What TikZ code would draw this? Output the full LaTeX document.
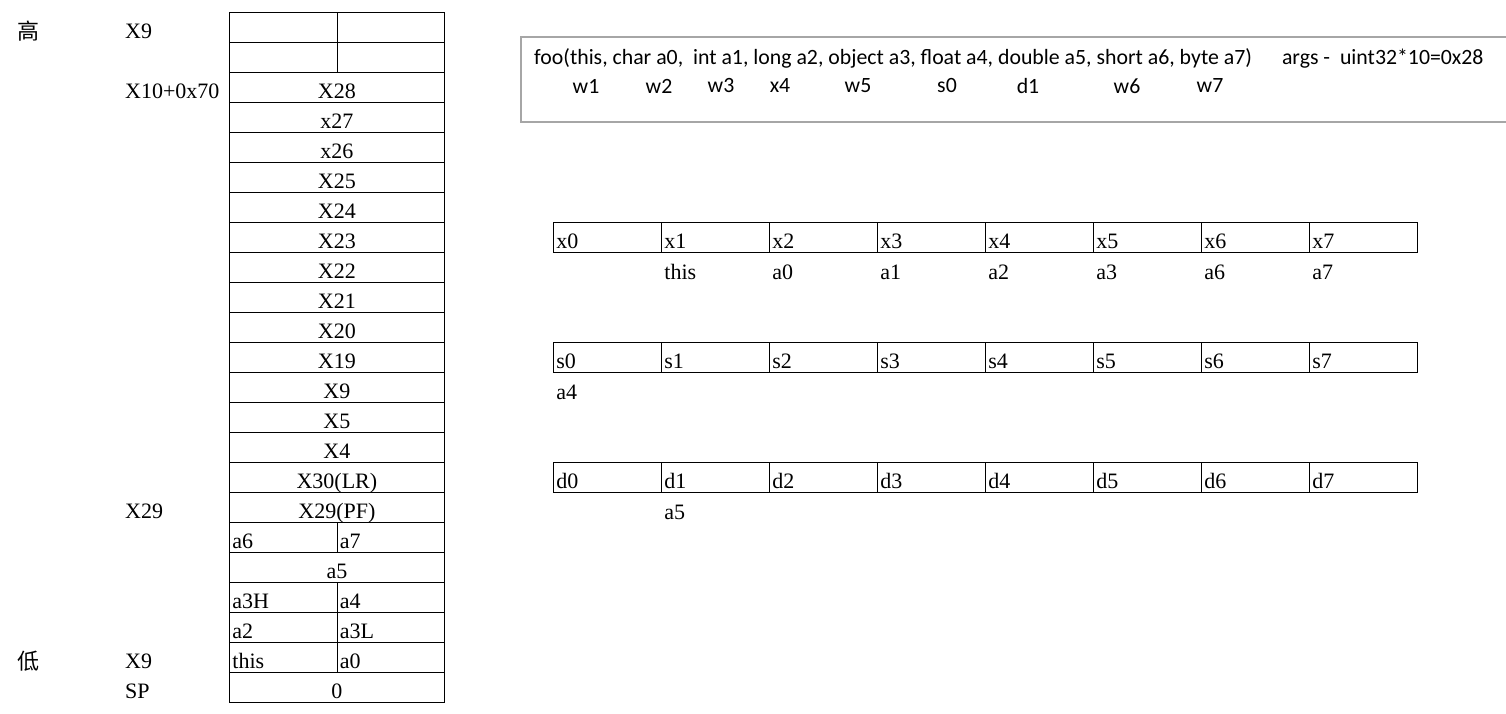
\documentclass[tikz,border=0pt]{standalone}
\usepackage{fontspec}
\setmainfont{Liberation Serif}
\newfontfamily\cjkfont{Noto Sans CJK SC}
\newfontfamily\sigfont{Carlito}
\definecolor{BoxGray}{HTML}{A6A6A6}
\tikzset{
  cell/.style={draw, line width=0.8pt, minimum height=30pt, inner sep=0pt, text height=24pt, text depth=2pt, font=\fontsize{22}{24}\selectfont},
  wide/.style={cell, minimum width=215pt},
  half/.style={cell, text width=101.5pt, inner xsep=3pt, align=left},
  reg/.style={cell, text width=102pt, inner xsep=3pt, align=left},
  argl/.style={reg, draw=none},
  side/.style={font=\fontsize{22}{24}\selectfont, inner sep=0pt},
  sigtext/.style={font=\sigfont\fontsize{21.8}{24}\selectfont, inner sep=0pt}
}

\begin{document}
\begin{tikzpicture}[x=1pt,y=-1pt]
  \useasboundingbox (0,0) rectangle (1506,714);
  \fill[white] (0,0) rectangle (1506,714);
  % stack frame
  \foreach \t [count=\i from 2] in {X28,x27,x26,X25,X24,X23,X22,X21,X20,X19,X9,X5,X4,{X30(LR)},{X29(PF)}}{\node[wide, anchor=north west] (row\i) at (229,{12+30*\i}) {\t};}
  \node[wide, anchor=north west] (row18) at (229,552) {a5};
  \node[wide, anchor=north west] (row22) at (229,672) {0};
  \foreach \i/\l/\r in {0/{}/{},1/{}/{},17/a6/a7,19/a3H/a4,20/a2/a3L,21/this/a0}{\node[half, anchor=north west] (lo\i) at (229,{12+30*\i}) {\l};\node[half, anchor=north west] (hi\i) at (336.5,{12+30*\i}) {\r};}
  \node[side] (high) at (28,31) {\cjkfont 高};
  \node[side] (low) at (28,661) {\cjkfont 低};
  \foreach \y/\t [count=\j] in {31/X9,91/X10+0x70,511/X29,661/X9,691/SP}{\node[side, anchor=west] (ptr\j) at (125,\y) {\t};}
  % registers
  \foreach \y/\p in {222/x,342/s,462/d}{\foreach \k in {0,...,7}{\node[reg, anchor=north west] (\p\k) at ({553+108*\k},\y) {\p\k};}}
  \foreach \k/\a in {1/this,2/a0,3/a1,4/a2,5/a3,6/a6,7/a7}{\node[argl, anchor=north west] (xa\k) at (x\k.south west) {\a};}
  \node[argl, anchor=north west] (sa0) at (s0.south west) {a4};
  \node[argl, anchor=north west] (da1) at (d1.south west) {a5};
  % signature box
  \node[draw=BoxGray, line width=1.6pt, anchor=north west, minimum width=1000pt, minimum height=85pt] (sig) at (520,36) {};
  \node[sigtext, anchor=west] (proto) at (534,58) {foo(this, char a0,\ \ int a1, long a2, object a3, float a4, double a5, short a6, byte a7)\hspace{30pt}args -\ \ uint32*10=0x28};
  \foreach \x/\w in {586/w1,659/w2,721/w3,780/x4,858/w5,947/s0,1028/d1,1127/w6,1210/w7}{\node[sigtext] (use-\w) at (\x,86) {\w};}
\end{tikzpicture}
\end{document}
